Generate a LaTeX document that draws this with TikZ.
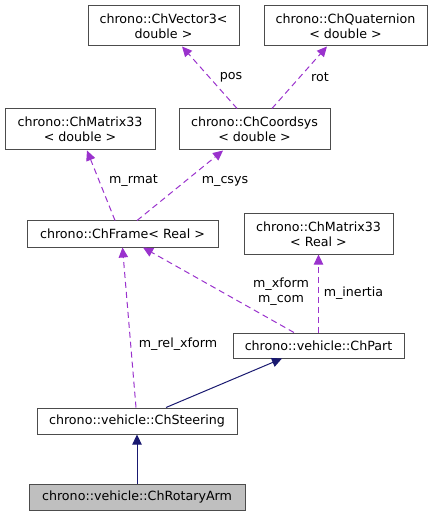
\documentclass[tikz,border=0pt]{standalone}
\usepackage{fontspec}
\setmainfont{DejaVu Sans}
\usetikzlibrary{arrows.meta}
\definecolor{usedge}{HTML}{9A32CD}
\definecolor{inhedge}{HTML}{191970}
\definecolor{curbox}{HTML}{BFBFBF}
\begin{document}
\begin{tikzpicture}[x=0.75pt,y=-0.75pt,
 cls/.style={draw=black!70,line width=0.75pt,fill=white,inner sep=0pt,align=center,
  font=\fontsize{9.5pt}{11pt}\selectfont},
 usage/.style={usedge,line width=0.75pt,dash pattern=on 4.5pt off 3pt,
  -{Triangle[length=7.5pt,width=7pt]}},
 inherit/.style={inhedge,line width=0.75pt,-{Triangle[length=7.5pt,width=7pt]}},
 lbl/.style={inner sep=0pt,align=center,font=\fontsize{9.5pt}{11pt}\selectfont}]
 \useasboundingbox (0,0) rectangle (432,516);
 % classes
 \node[cls,minimum width=113.25pt,minimum height=30pt] (vec) at (163.5,26) {chrono::ChVector3<\\double >};
 \node[cls,minimum width=122.25pt,minimum height=30pt] (quat) at (345.5,26) {chrono::ChQuaternion\\< double >};
 \node[cls,minimum width=112.5pt,minimum height=30.75pt] (matd) at (80,129.5) {chrono::ChMatrix33\\< double >};
 \node[cls,minimum width=113.25pt,minimum height=30.75pt] (csys) at (254.5,129.5) {chrono::ChCoordsys\\< double >};
 \node[cls,minimum width=143.25pt,minimum height=19.5pt] (frame) at (122.5,234) {chrono::ChFrame< Real >};
 \node[cls,minimum width=111.75pt,minimum height=30pt] (matr) at (318.5,234) {chrono::ChMatrix33\\< Real >};
 \node[cls,minimum width=128.25pt,minimum height=18.75pt] (part) at (318.5,345.5) {chrono::vehicle::ChPart};
 \node[cls,minimum width=150pt,minimum height=19.5pt] (steer) at (137,421) {chrono::vehicle::ChSteering};
 \node[cls,fill=curbox,minimum width=162pt,minimum height=19.5pt] (arm) at (137,497) {chrono::vehicle::ChRotaryArm};
 % members
 \draw[usage] ([xshift=-13.1pt]csys.north) -- ([xshift=13.9pt]vec.south);
 \draw[usage] ([xshift=13.1pt]csys.north) -- ([xshift=-13.9pt]quat.south);
 \draw[usage] ([xshift=-5.6pt]frame.north) -- ([xshift=5.25pt]matd.south);
 \draw[usage] ([xshift=10.9pt]frame.north) -- ([xshift=-23.6pt]csys.south);
 \draw[usage] ([xshift=-0.75pt]steer.north) -- (frame.south);
 \draw[usage] ([xshift=-18.4pt]part.north) -- ([xshift=15.4pt]frame.south);
 \draw[usage] (part.north) -- (matr.south);
 \node[lbl] (lpos) at (231,77) {pos};
 \node[lbl] (lrot) at (320,77) {rot};
 \node[lbl] (lrmat) at (133.5,181) {m\_rmat};
 \node[lbl] (lcsys) at (225,181) {m\_csys};
 \node[lbl] (lrel) at (178,344) {m\_rel\_xform};
 \node[lbl] (lxform) at (281,292) {m\_xform\\m\_com};
 \node[lbl] (linert) at (353.5,293) {m\_inertia};
 % inheritance
 \draw[inherit] ([xshift=21.75pt]steer.north) -- ([xshift=-27.4pt]part.south);
 \draw[inherit] (arm.north) -- (steer.south);
\end{tikzpicture}
\end{document}
